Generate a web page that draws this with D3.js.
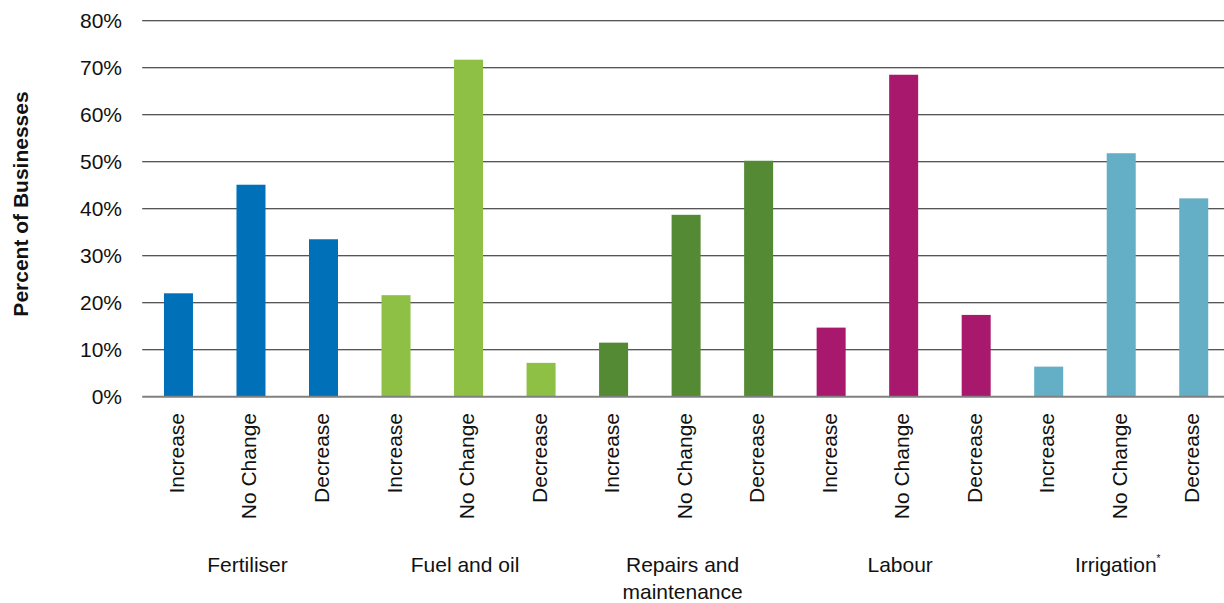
<!DOCTYPE html>
<html><head><meta charset="utf-8">
<script src="https://cdn.jsdelivr.net/npm/d3@7"></script>
<style>body{margin:0;background:#fff}svg{display:block}text{font-family:"Liberation Sans",Arial,sans-serif}</style>
</head><body><svg id="c" width="1224" height="603"></svg>
<script>
const groups = ["Fertiliser", "Fuel and oil", "Repairs and maintenance", "Labour", "Irrigation"];
const responses = ["Increase", "No Change", "Decrease"];
const fertiliser = [22.0, 45.1, 33.5];
const fuelOil = [21.6, 71.7, 7.2];
const repairs = [11.5, 38.7, 50.2];
const labour = [14.7, 68.5, 17.4];
const irrigation = [6.4, 51.8, 42.2];
const groupColors = ["#0070B8", "#8DC044", "#548A33", "#A8186D", "#64AFC5"];
const yTicks = [0, 10, 20, 30, 40, 50, 60, 70, 80];

(function () {
const seriesValues = [fertiliser, fuelOil, repairs, labour, irrigation];
const data = [];
groups.forEach((g, gi) => responses.forEach((r, ri) => data.push({key: gi + "-" + ri, group: g, gi, response: r, value: seriesValues[gi][ri]})));

const svg = d3.select("#c");
const mLeft = 142.2, mRight = 1230, mTop = 20.7, mBottom = 396.7, gridRight = 1224;
const x = d3.scaleBand().domain(data.map(d => d.key)).range([mLeft, mRight]).paddingInner(0.6).paddingOuter(0.3);
const y = d3.scaleLinear().domain([0, 80]).range([mBottom, mTop]);
const FS = 21;

svg.append("g").selectAll("line").data(yTicks.filter(t => t > 0)).join("line")
  .attr("x1", mLeft).attr("x2", gridRight).attr("y1", d => y(d)).attr("y2", d => y(d))
  .attr("stroke", "#1e1e1e").attr("stroke-width", 1.1);

svg.append("g").selectAll("text").data(yTicks).join("text")
  .attr("x", 122).attr("y", d => y(d)).attr("dy", "0.35em").attr("text-anchor", "end")
  .attr("font-size", FS).attr("fill", "#111").text(d => d + "%");

svg.append("g").selectAll("rect").data(data).join("rect")
  .attr("x", d => x(d.key)).attr("width", x.bandwidth())
  .attr("y", d => y(d.value)).attr("height", d => y(0) - y(d.value))
  .attr("fill", d => groupColors[d.gi]);

svg.append("line").attr("x1", mLeft).attr("x2", gridRight).attr("y1", y(0)).attr("y2", y(0))
  .attr("stroke", "#808080").attr("stroke-width", 2);

svg.append("g").selectAll("text").data(data).join("text")
  .attr("transform", d => `translate(${x(d.key) + x.bandwidth() / 2 + 5.5},413) rotate(-90)`)
  .attr("text-anchor", "end").attr("font-size", FS).attr("fill", "#111").text(d => d.response);

const gLabels = svg.append("g");
groups.forEach((g, gi) => {
  const cx = x(gi + "-1") + x.bandwidth() / 2 - 3.5;
  const t = gLabels.append("text").attr("x", cx).attr("y", 572).attr("text-anchor", "middle")
    .attr("font-size", FS).attr("fill", "#111");
  if (g === "Repairs and maintenance") {
    t.append("tspan").attr("x", cx).attr("y", 572).text("Repairs and");
    t.append("tspan").attr("x", cx).attr("y", 599).text("maintenance");
  } else if (g === "Irrigation") {
    t.append("tspan").text("Irrigation");
    t.append("tspan").attr("font-size", 10).attr("dy", -10).text("*");
  } else {
    t.text(g);
  }
});

svg.append("text").attr("transform", "translate(27.5,204) rotate(-90)").attr("text-anchor", "middle")
  .attr("font-size", FS).attr("font-weight", "bold").attr("fill", "#111").text("Percent of Businesses");
})();
</script></body></html>
